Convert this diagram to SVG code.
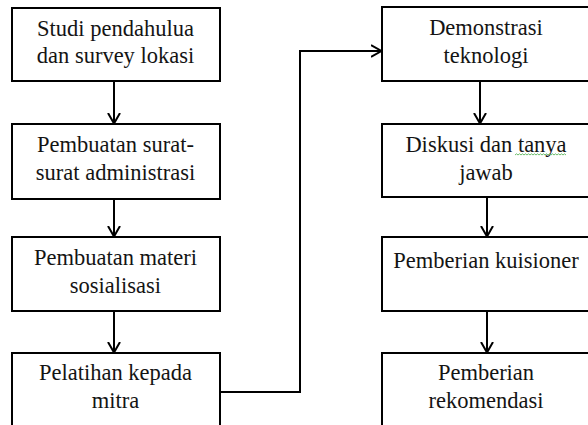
<svg xmlns="http://www.w3.org/2000/svg" width="588" height="425" viewBox="0 0 588 425">
<style>
.box{fill:#fff;stroke:#000;stroke-width:2}
.t{font-family:"Liberation Serif","Times New Roman",serif;font-size:22.5px;fill:#141414;text-anchor:middle}
.c{fill:none;stroke:#000;stroke-width:2}
</style>
<defs>
<marker id="arr" viewBox="0 0 12 14" refX="11.5" refY="7" markerWidth="12" markerHeight="14" markerUnits="userSpaceOnUse" orient="auto">
<path d="M0.5,1 L11,7 L0.5,13" fill="none" stroke="#000" stroke-width="2"/>
</marker>
</defs>
<rect width="588" height="425" fill="#fff"/>
<g id="connectors">
<line class="c" x1="114" y1="81" x2="114" y2="124" marker-end="url(#arr)"/>
<line class="c" x1="114" y1="199" x2="114" y2="237" marker-end="url(#arr)"/>
<line class="c" x1="114" y1="311" x2="114" y2="353" marker-end="url(#arr)"/>
<polyline class="c" points="220,392 300,392 300,51 382,51" marker-end="url(#arr)"/>
<line class="c" x1="480" y1="81" x2="480" y2="124" marker-end="url(#arr)"/>
<line class="c" x1="487" y1="197" x2="487" y2="237" marker-end="url(#arr)"/>
<line class="c" x1="487" y1="311" x2="487" y2="353" marker-end="url(#arr)"/>
</g>
<g id="n1"><rect class="box" x="12" y="8" width="208" height="73"/><text class="t" x="115.5" y="36">Studi pendahulua</text><text class="t" x="115.5" y="63">dan survey lokasi</text></g>
<g id="n2"><rect class="box" x="12" y="124" width="208" height="75"/><text class="t" x="115.5" y="152">Pembuatan surat-</text><text class="t" x="115.5" y="180">surat administrasi</text></g>
<g id="n3"><rect class="box" x="12" y="237" width="208" height="74"/><text class="t" x="115.5" y="265">Pembuatan materi</text><text class="t" x="115.5" y="293">sosialisasi</text></g>
<g id="n4"><rect class="box" x="12" y="353" width="208" height="80"/><text class="t" x="115.5" y="380">Pelatihan kepada</text><text class="t" x="115.5" y="408">mitra</text></g>
<g id="n5"><rect class="box" x="382" y="7" width="210" height="74"/><text class="t" x="486" y="35">Demonstrasi</text><text class="t" x="486" y="63">teknologi</text></g>
<g id="n6"><rect class="box" x="382" y="124" width="210" height="73"/><text class="t" x="486" y="152">Diskusi dan tanya</text><text class="t" x="486" y="180">jawab</text>
<path d="M515,155 l1.5,-1.2 l1.5,1.2 l1.5,-1.2 l1.5,1.2 l1.5,-1.2 l1.5,1.2 l1.5,-1.2 l1.5,1.2 l1.5,-1.2 l1.5,1.2 l1.5,-1.2 l1.5,1.2 l1.5,-1.2 l1.5,1.2 l1.5,-1.2 l1.5,1.2 l1.5,-1.2 l1.5,1.2 l1.5,-1.2 l1.5,1.2 l1.5,-1.2 l1.5,1.2 l1.5,-1.2 l1.5,1.2 l1.5,-1.2 l1.5,1.2 l1.5,-1.2 l1.5,1.2 l1.5,-1.2 l1.5,1.2 l1.5,-1.2 l1.5,1.2 l1.5,-1.2 l1.5,1.2" fill="none" stroke="#5ab55a" stroke-width="0.9"/></g>
<g id="n7"><rect class="box" x="382" y="237" width="210" height="74"/><text class="t" x="486" y="268">Pemberian kuisioner</text></g>
<g id="n8"><rect class="box" x="382" y="353" width="210" height="80"/><text class="t" x="486" y="380">Pemberian</text><text class="t" x="486" y="408">rekomendasi</text></g>
</svg>
